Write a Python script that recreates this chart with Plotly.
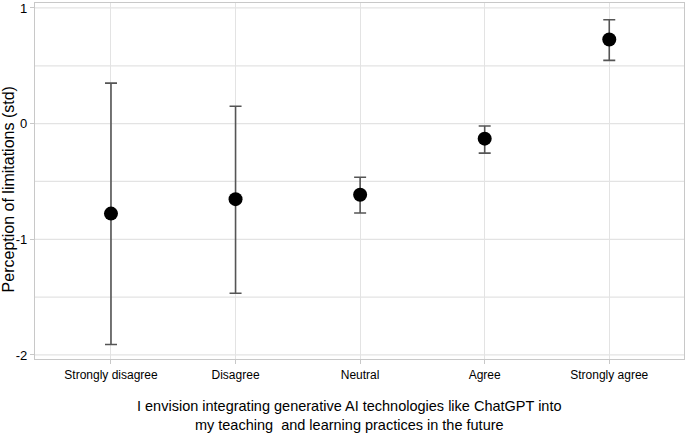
import plotly.graph_objects as go

categories = ["Strongly disagree", "Disagree", "Neutral", "Agree", "Strongly agree"]
means = [-0.778, -0.653, -0.615, -0.13, 0.727]
upper = [0.35, 0.15, -0.464, -0.021, 0.898]
lower = [-1.91, -1.467, -0.773, -0.255, 0.547]

x_title = "I envision integrating generative AI technologies like ChatGPT into<br>my teaching  and learning practices in the future"
y_title = "Perception of limitations (std)"

err_plus = [u - m for u, m in zip(upper, means)]
err_minus = [m - l for m, l in zip(means, lower)]

fig = go.Figure()
fig.add_trace(go.Scatter(
    x=list(range(len(categories))), y=means, mode="markers",
    marker=dict(color="black", size=14),
    error_y=dict(type="data", array=err_plus, arrayminus=err_minus,
                 color="#555555", thickness=1.6, width=6),
    showlegend=False,
))

fig.update_layout(
    width=685, height=433,
    margin=dict(l=35, r=1, t=3, b=74),
    plot_bgcolor="white", paper_bgcolor="white",
    font=dict(family="Liberation Sans, Arial, sans-serif", color="black", size=12),
    xaxis=dict(
        tickmode="array", tickvals=list(range(len(categories))), ticktext=categories,
        range=[-0.61, 4.6], showgrid=True, gridcolor="#e3e3e3", gridwidth=1.2,
        showline=True, linecolor="#c8c8c8", linewidth=1.2, mirror=True,
        ticks="outside", ticklen=4, tickcolor="#c8c8c8", zeroline=False,
        automargin=False,
    ),
    yaxis=dict(
        range=[-2.035, 1.043], tickvals=[-2, -1, 0, 1], ticktext=["-2", "-1", "0", "1"],
        showgrid=False, showline=True, linecolor="#c8c8c8", linewidth=1.2, mirror=True,
        ticks="outside", ticklen=4, tickcolor="#c8c8c8", zeroline=False,
        tickfont=dict(size=13), automargin=False, ticklabeloverflow="allow",
    ),
    annotations=[
        dict(text=x_title, xref="paper", yref="paper", x=(349 - 35) / 649, y=-0.105,
             xanchor="center", yanchor="top", showarrow=False,
             font=dict(size=14.5)),
        dict(text=y_title, xref="paper", yref="paper", x=(8.5 - 35) / 649, y=0.475,
             xanchor="center", yanchor="middle", textangle=-90, showarrow=False,
             font=dict(size=16)),
    ],
)
for v in [-2, -1.5, -1, -0.5, 0, 0.5, 1]:
    fig.add_hline(y=v, line=dict(color="#e3e3e3", width=1.2), layer="below")

fig.write_html("out.html", config={"displayModeBar": False},
               post_script="document.body.style.margin='0';document.body.style.overflow='hidden';")
